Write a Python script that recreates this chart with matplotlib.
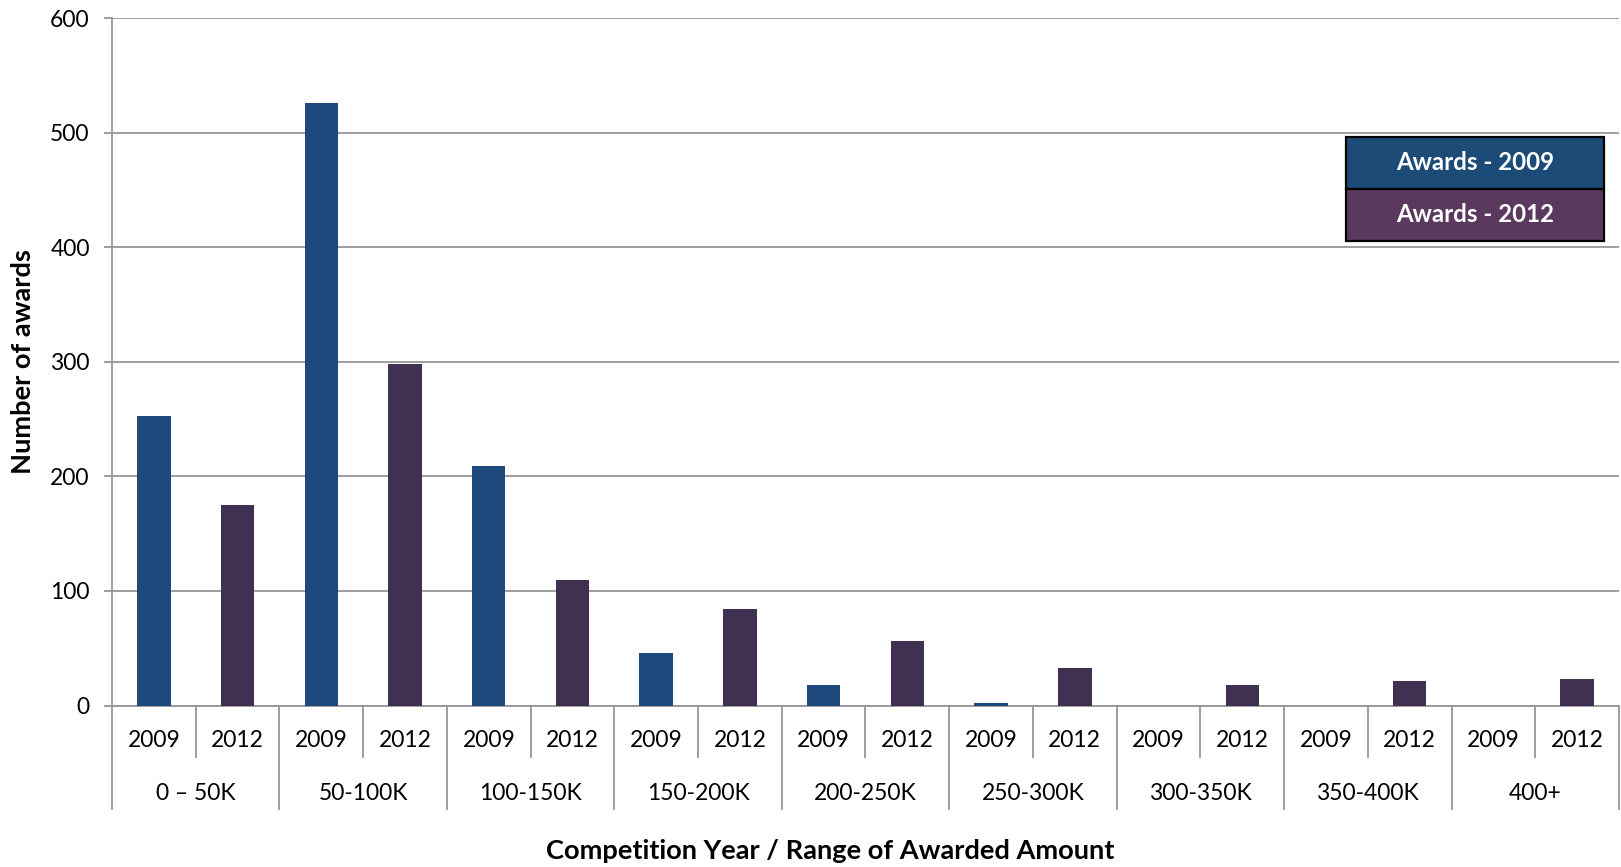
import matplotlib
matplotlib.use("Agg")
import matplotlib.pyplot as plt
from matplotlib.patches import Rectangle
import numpy as np

plt.rcParams['font.family'] = ['Lato', 'DejaVu Sans']

ranges = ["0 \u2013 50K", "50-100K", "100-150K", "150-200K", "200-250K",
          "250-300K", "300-350K", "350-400K", "400+"]
years = ["2009", "2012"]
awards_2009 = [253, 526, 209, 46, 18, 2, 0, 0, 0]
awards_2012 = [175, 298, 110, 84, 56, 33, 18, 21, 23]
yticks = [0, 100, 200, 300, 400, 500, 600]
legend_labels = ["Awards - 2009", "Awards - 2012"]

c09 = "#1F497D"
c12 = "#403152"
leg09 = "#1C4B78"
leg12 = "#5B385E"
grid_c = "#969696"

W, H = 1621, 867
fig = plt.figure(figsize=(W / 100, H / 100), dpi=100)
ax = fig.add_axes([112 / W, 1 - 705.5 / H, (1619 - 112) / W, (705.5 - 18.3) / H])

n = len(ranges)
x09 = np.arange(n) * 2
x12 = np.arange(n) * 2 + 1
bw = 0.4
ax.bar(x09, awards_2009, width=bw, color=c09, zorder=3)
ax.bar(x12, awards_2012, width=bw, color=c12, zorder=3)

ax.set_xlim(-0.5, 2 * n - 0.5)
ax.set_ylim(0, 600)
ax.set_yticks(yticks)
ax.set_yticklabels([str(v) for v in yticks], fontsize=16.5)
ax.yaxis.grid(True, color=grid_c, linewidth=1.3, zorder=0)
ax.set_axisbelow(True)
ax.set_xticks([])
for s in ["top", "right"]:
    ax.spines[s].set_visible(False)
for s in ["left", "bottom"]:
    ax.spines[s].set_color(grid_c)
    ax.spines[s].set_linewidth(1.3)
ax.tick_params(axis='y', length=6, width=1.3, color=grid_c, pad=10)

trans = ax.get_xaxis_transform()
ax_h = 705.5 - 18.3
y_year_div = -(757 - 705.5) / ax_h
y_group_div = -(809 - 705.5) / ax_h
y_year_lab = -(740.7 - 705.5) / ax_h
y_group_lab = -(793 - 705.5) / ax_h

for i in range(n):
    xd = 2 * i + 0.5
    ax.plot([xd, xd], [0, y_year_div], transform=trans, color=grid_c,
            linewidth=1.3, clip_on=False)
for i in range(n + 1):
    xd = 2 * i - 0.5
    ax.plot([xd, xd], [0, y_group_div], transform=trans, color=grid_c,
            linewidth=1.3, clip_on=False)
for i in range(n):
    for j, yr in enumerate(years):
        ax.text(2 * i + j, y_year_lab, yr, transform=trans, ha='center',
                va='center', fontsize=16.5)
    ax.text(2 * i + 0.5, y_group_lab, ranges[i], transform=trans,
            ha='center', va='center', fontsize=16.5)

fig.text(830 / W, 1 - 851 / H,
         "Competition Year / Range of Awarded Amount",
         ha='center', va='center', fontsize=19.6, fontweight='bold')
fig.text(23 / W, 1 - 362 / H, "Number of awards", rotation=90,
         ha='center', va='center', fontsize=19.6, fontweight='bold')

lx0, lx1 = 1346, 1604
ly = [137, 189, 241]
for k, (lab, col) in enumerate(zip(legend_labels, [leg09, leg12])):
    y_top, y_bot = ly[k], ly[k + 1]
    r = Rectangle((lx0 / W, 1 - y_bot / H), (lx1 - lx0) / W, (y_bot - y_top) / H,
                  transform=fig.transFigure, facecolor=col, edgecolor='black',
                  linewidth=1.6, zorder=5)
    fig.add_artist(r)
    fig.text((lx0 + lx1) / 2 / W, 1 - (y_top + y_bot) / 2 / H, lab,
             ha='center', va='center', fontsize=17.3, fontweight='bold',
             color='white', zorder=6)

fig.savefig("out.png", dpi=100)
